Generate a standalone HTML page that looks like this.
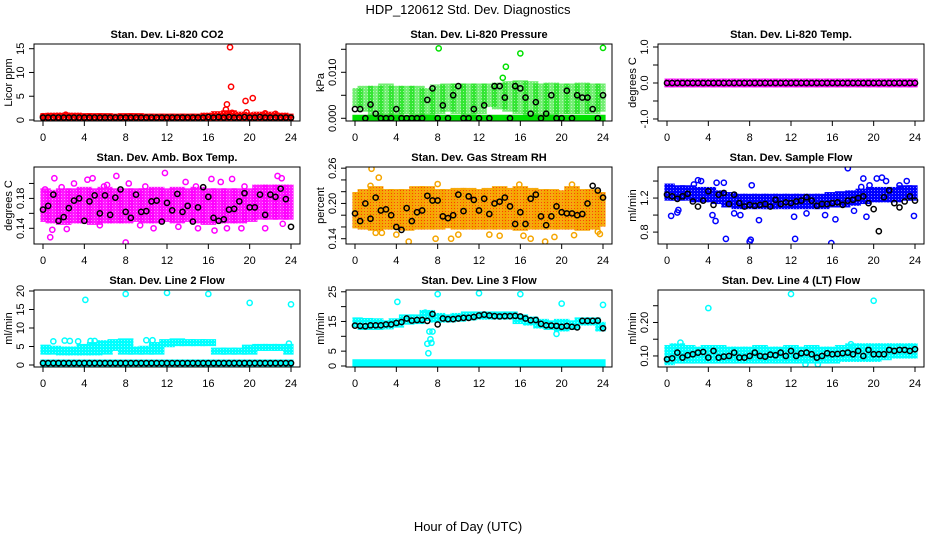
<!DOCTYPE html>
<html><head><meta charset="utf-8"><style>
html,body{margin:0;padding:0;background:#fff;}
svg{display:block;font-family:"Liberation Sans",Arial,sans-serif;}
</style></head><body>
<svg id="chart" width="936" height="540" viewBox="0 0 936 540" xmlns="http://www.w3.org/2000/svg">
<text x="468" y="14" font-size="13" text-anchor="middle">HDP_120612  Std. Dev. Diagnostics</text>
<text x="468" y="531" font-size="13" text-anchor="middle">Hour of Day (UTC)</text>
</svg>
<script>
// ---- data ----
const xTicks = [0,4,8,12,16,20,24];
const titles = ["Stan. Dev. Li-820 CO2","Stan. Dev. Li-820 Pressure","Stan. Dev. Li-820 Temp.","Stan. Dev. Amb. Box Temp.","Stan. Dev. Gas Stream RH","Stan. Dev. Sample Flow","Stan. Dev. Line 2 Flow","Stan. Dev. Line 3 Flow","Stan. Dev. Line 4 (LT) Flow"];
const yTitles = ["Licor ppm","kPa","degrees C","degrees C","percent","ml/min","ml/min","ml/min","ml/min"];
const colors = ["#ff0000","#00e000","#ff00ff","#ff00ff","#f5a500","#0000ff","#00ffff","#00ffff","#00ffff"];
const yRanges = [[-0.21,15.99],[-0.00059,0.01615],[-1.056,1.083],[0.119,0.222],[0.131,0.262],[0.66,1.565],[-0.54,20.27],[-0.34,25.6],[0.067,0.297]];
const yTickVals = [[0,5,10,15],[0,0.005,0.01,0.015],[-1,-0.5,0,0.5,1],[0.14,0.16,0.18,0.2],[0.14,0.16,0.18,0.2,0.22,0.24,0.26],[0.8,1.0,1.2,1.4],[0,5,10,15,20],[0,5,10,15,20,25],[0.1,0.15,0.2,0.25]];
const yTickLabels = [["0","5","10","15"],["0.000","","0.010",""],["-1.0","","0.0","","1.0"],["0.14","","0.18",""],["0.14","","","0.20","","","0.26"],["0.8","","1.2",""],["0","5","10","15","20"],["0","5","","15","","25"],["0.10","","0.20",""]];

// hourly band (dense cloud) lows / highs, one per hour 0..24
const bandLo = [
 [0.2,0.2,0.2,0.2,0.2,0.2,0.2,0.2,0.2,0.2,0.2,0.2,0.2,0.2,0.2,0.2,0.2,0.2,0.2,0.2,0.2,0.2,0.2,0.2,0.2],
 [0.003,0.002,0.001,0.001,0.001,0.0015,0.001,0.0012,0.0015,0.002,0.0015,0.0012,0.0015,0.003,0.0025,0.002,0.0015,0.001,0.001,0.001,0.0015,0.0015,0.0015,0.0015,0.002],
 [-0.05,-0.05,-0.05,-0.05,-0.05,-0.05,-0.05,-0.05,-0.05,-0.05,-0.05,-0.05,-0.05,-0.05,-0.05,-0.05,-0.05,-0.05,-0.05,-0.05,-0.05,-0.05,-0.05,-0.05,-0.05],
 [0.152,0.15,0.148,0.15,0.15,0.148,0.15,0.15,0.15,0.152,0.15,0.15,0.152,0.15,0.152,0.15,0.148,0.15,0.15,0.15,0.152,0.155,0.155,0.155,0.155],
 [0.162,0.16,0.158,0.16,0.16,0.158,0.16,0.16,0.16,0.162,0.16,0.16,0.16,0.16,0.16,0.16,0.158,0.16,0.16,0.16,0.16,0.16,0.158,0.16,0.165],
 [1.2,1.2,1.2,1.18,1.18,1.16,1.12,1.1,1.1,1.1,1.1,1.1,1.1,1.1,1.1,1.1,1.12,1.12,1.14,1.16,1.18,1.18,1.18,1.2,1.2],
 [3.5,3.5,3.3,3.3,3.3,3.3,3.5,4.5,3.5,3.5,3.5,3.5,5.5,5.8,5.8,5.8,5.8,3.5,3.5,3.5,3.5,4.5,4.5,4.5,3.5],
 [14,13,13,13.2,13.8,14.8,15,16,15.5,15.5,15.8,16.2,16.5,16.5,16.5,16.5,15,14.5,13.5,13,12.5,13,14.5,14.5,12.5],
 [0.08,0.085,0.085,0.085,0.085,0.085,0.085,0.085,0.085,0.085,0.085,0.085,0.085,0.085,0.085,0.085,0.085,0.09,0.09,0.09,0.09,0.095,0.1,0.1,0.1]];
const bandHi = [
 [0.9,1,1,1,0.9,0.9,0.9,0.8,0.9,0.9,0.8,0.8,0.8,0.8,0.8,0.8,1.0,1.3,1.5,1.2,1.1,1.2,1.2,1.0,0.8],
 [0.006,0.0065,0.0065,0.007,0.0065,0.0065,0.0065,0.006,0.0068,0.007,0.007,0.007,0.007,0.007,0.0072,0.0075,0.0077,0.0075,0.007,0.0072,0.007,0.007,0.0072,0.007,0.007],
 [0.05,0.05,0.05,0.05,0.05,0.05,0.05,0.05,0.05,0.05,0.05,0.05,0.05,0.05,0.05,0.05,0.05,0.05,0.05,0.05,0.05,0.05,0.05,0.05,0.05],
 [0.19,0.188,0.19,0.19,0.192,0.19,0.192,0.19,0.19,0.19,0.19,0.192,0.19,0.192,0.19,0.192,0.19,0.19,0.19,0.19,0.19,0.195,0.195,0.195,0.195],
 [0.215,0.22,0.225,0.22,0.22,0.22,0.225,0.225,0.22,0.22,0.222,0.222,0.22,0.222,0.225,0.222,0.225,0.222,0.22,0.22,0.218,0.225,0.22,0.22,0.215],
 [1.34,1.32,1.32,1.3,1.3,1.26,1.24,1.22,1.22,1.22,1.22,1.22,1.22,1.22,1.22,1.22,1.24,1.25,1.26,1.28,1.3,1.3,1.3,1.32,1.32],
 [4.8,4.5,4.3,4.3,5,5.5,6,6.3,6.5,4.3,4.5,5.5,6.3,6.5,6.3,6.3,6.3,4,4,4,4.8,5,5,5,5],
 [15.5,15.3,15.2,14.5,15.2,16.5,16.5,18,17,16.5,17,17.5,17.5,17.5,17.5,17.5,16.5,15.8,15,14.5,15,14.5,15.5,15.5,14],
 [0.125,0.13,0.125,0.12,0.125,0.125,0.12,0.12,0.12,0.125,0.12,0.12,0.125,0.12,0.125,0.12,0.12,0.125,0.13,0.13,0.13,0.13,0.13,0.13,0.13]];
// constant baseline band (zeros) for some panels: [lo, hi] or null
const baseBand = [null,[-0.0002,0.0002],null,null,null,null,[0.2,0.8],[0.6,1.4],null];

// outlier points [hour, value]
const outliers = [
 [[0,0.8],[2.2,1.1],[17.7,2.2],[17.8,3.3],[18.1,15.3],[18.2,7.0],[18.3,1.5],[19.6,4.0],[19.7,1.6],[20.3,4.6],[21.5,1.4],[22.5,1.3]],
 [[8.1,0.0152],[16,0.0141],[14.6,0.0112],[14.3,0.0088],[24,0.0153]],
 [],
 [[0.2,0.192],[0.7,0.128],[0.9,0.138],[1.1,0.207],[2.3,0.139],[3,0.2],[4.3,0.205],[4.8,0.207],[5.5,0.144],[6.2,0.198],[7.1,0.21],[8,0.121],[8.3,0.2],[9.4,0.144],[10.7,0.14],[11.8,0.214],[13.1,0.142],[13.8,0.202],[15,0.14],[16.3,0.206],[16.6,0.137],[17.2,0.202],[17.8,0.14],[18.3,0.206],[19.2,0.14],[21.5,0.14],[22.7,0.21],[23.1,0.207],[23.2,0.146],[1.8,0.195],[5.9,0.196],[9.9,0.196],[14.8,0.196],[19.5,0.196]],
 [[1.6,0.259],[2.3,0.244],[1.5,0.23],[2,0.15],[2.6,0.15],[4,0.147],[5.2,0.135],[7.8,0.14],[9.3,0.14],[10,0.147],[13,0.147],[14,0.145],[16.3,0.145],[17,0.14],[18.4,0.135],[19.3,0.143],[21.2,0.146],[23.5,0.152],[23.7,0.148],[8,0.233],[15.9,0.232],[21,0.232]],
 [[0.4,0.99],[1,1.03],[1.1,1.06],[2.6,1.36],[3,1.41],[3.3,1.4],[4.4,1.0],[4.7,0.93],[4.8,1.38],[5.5,1.38],[5.7,0.72],[6.5,1.02],[7.1,1.0],[8,0.69],[8.1,0.71],[8.2,1.35],[8.9,0.94],[12.3,0.98],[12.4,0.72],[13.5,1.02],[15.3,1.0],[15.9,0.67],[16.3,0.95],[17.5,1.55],[18.1,1.05],[19,1.43],[19.3,0.98],[19.6,1.35],[20.3,1.43],[21.2,1.4],[20.8,1.44],[22.5,1.35],[23.2,1.4],[23.9,0.99],[18.8,1.33]],
 [[1,6.4],[2.1,6.6],[2.6,6.5],[3.4,6.4],[4.1,17.6],[4.6,6.5],[5,6.5],[8,19.2],[10,6.7],[10.6,6.7],[12,19.5],[16,19.2],[20,16.8],[23.8,5.8],[24,16.4]],
 [[4.1,21.6],[7,7.5],[7.1,4.3],[7.2,11.6],[7.3,9],[7.4,7.8],[7.5,11.6],[8,24.2],[12,24.5],[16,24.2],[19.5,10.8],[20,21],[24,20.6],[6.8,18]],
 [[1.3,0.14],[4,0.243],[12,0.285],[20,0.265],[13.4,0.075],[14.6,0.075],[17.8,0.135]]];

// black series: half-hourly values 0..24
const blackVals = [
 [0.5,0.5,0.5,0.5,0.5,0.5,0.5,0.5,0.5,0.5,0.5,0.5,0.5,0.5,0.5,0.5,0.5,0.5,0.5,0.5,0.5,0.5,0.5,0.5,0.5,0.5,0.5,0.5,0.5,0.5,0.5,0.5,0.6,0.5,0.6,0.5,0.6,0.5,0.5,0.6,0.5,0.5,0.6,0.5,0.5,0.5,0.5,0.5,0.5],
 [0.002,0.002,0,0.003,0.001,0,0,0,0.002,0,0,0,0,0,0.004,0.0065,0,0.0028,0,0.005,0.007,0,0,0.002,0,0.0028,0,0.007,0.007,0.0045,0,0.007,0.0065,0.0045,0.001,0.0035,0,0.001,0.005,0,0,0.006,0,0.005,0.0045,0.0045,0.002,0,0.005],
 [0,0,0,0,0,0,0,0,0,0,0,0,0,0,0,0,0,0,0,0,0,0,0,0,0,0,0,0,0,0,0,0,0,0,0,0,0,0,0,0,0,0,0,0,0,0,0,0,0],
 [0.165,0.17,0.185,0.15,0.155,0.167,0.177,0.18,0.15,0.176,0.184,0.16,0.184,0.158,0.181,0.192,0.162,0.154,0.185,0.162,0.163,0.176,0.177,0.149,0.174,0.164,0.186,0.162,0.17,0.149,0.168,0.195,0.182,0.154,0.15,0.152,0.165,0.166,0.176,0.187,0.168,0.168,0.185,0.158,0.185,0.182,0.193,0.179,0.142],
 [0.183,0.17,0.2,0.174,0.21,0.188,0.19,0.18,0.16,0.155,0.192,0.17,0.185,0.188,0.213,0.205,0.205,0.178,0.175,0.18,0.215,0.187,0.212,0.206,0.188,0.208,0.182,0.2,0.203,0.21,0.195,0.165,0.185,0.165,0.208,0.215,0.178,0.163,0.178,0.195,0.185,0.183,0.183,0.18,0.182,0.2,0.23,0.222,0.21],
 [1.24,1.22,1.19,1.22,1.25,1.16,1.1,1.17,1.28,1.12,1.24,1.26,1.13,1.24,1.14,1.1,1.12,1.11,1.12,1.13,1.1,1.18,1.13,1.15,1.14,1.16,1.17,1.21,1.17,1.11,1.13,1.13,1.14,1.15,1.12,1.17,1.18,1.2,1.22,1.14,1.07,0.81,1.21,1.29,1.14,1.09,1.16,1.22,1.17],
 [0.5,0.5,0.5,0.5,0.5,0.5,0.5,0.5,0.5,0.5,0.5,0.5,0.5,0.5,0.5,0.5,0.5,0.5,0.5,0.5,0.5,0.5,0.5,0.5,0.5,0.5,0.5,0.5,0.5,0.5,0.5,0.5,0.5,0.5,0.5,0.5,0.5,0.5,0.5,0.5,0.5,0.5,0.5,0.5,0.5,0.5,0.5,0.5,0.5],
 [13.6,13.5,13.4,13.7,13.7,13.7,14,14,14.5,14.8,16,15.3,15.5,15.5,15.2,17.5,14,16,15.8,15.8,16,16.2,16.2,16.5,17,17.3,17,16.8,16.7,16.8,16.8,16.9,16.7,16,15.4,15.5,14.2,13.7,13.6,13.5,13.2,13.5,13.2,13,15.2,15.2,15.2,15.3,12.7],
 [0.09,0.093,0.11,0.095,0.102,0.105,0.11,0.112,0.095,0.115,0.095,0.098,0.1,0.11,0.095,0.095,0.1,0.11,0.1,0.098,0.104,0.102,0.11,0.1,0.115,0.1,0.108,0.11,0.105,0.095,0.1,0.108,0.105,0.106,0.108,0.11,0.105,0.115,0.1,0.118,0.105,0.105,0.105,0.118,0.115,0.118,0.118,0.115,0.12]];
const bandOpacity = [1,0.55,1,0.9,0.95,1,1,1,1];

// ---- drawing ----
const NS = "http://www.w3.org/2000/svg";
const svg = document.getElementById('chart');
function mk(tag, attrs, parent){ const e=document.createElementNS(NS,tag); for(const k in attrs) e.setAttribute(k,attrs[k]); (parent||svg).appendChild(e); return e; }

const defs = mk('defs',{});
for (let p=0;p<9;p++){
  const pat = mk('pattern',{id:'pat'+p,width:3,height:3,patternUnits:'userSpaceOnUse'},defs);
  mk('rect',{x:0,y:0,width:3,height:3,fill:colors[p]},pat);
  mk('rect',{x:1,y:1,width:1,height:1,fill:p===4?'#ff2000':'#ffffff','fill-opacity':p===4?0.8:0.5},pat);
}

for (let p=0;p<9;p++){
  const col=p%3,row=Math.floor(p/3);
  const L=34+312*col, W=266, T=44+123*row, B=121+123*row;
  const x0=L+9, x1=L+257;
  const X=h=>x0+(x1-x0)*h/24;
  const [ymin,ymax]=yRanges[p];
  const Y=v=>B-(B-T)*(v-ymin)/(ymax-ymin);
  const g=mk('g',{});
  
  
  const clipId='clip'+p;
  const cp=mk('clipPath',{id:clipId},defs); mk('rect',{x:L,y:T,width:W,height:B-T},cp);
  const t=mk('text',{x:L+W/2,y:T-6,'font-size':11,'font-weight':'bold','text-anchor':'middle'},g);
  t.textContent=titles[p];
  
  
  const pl=mk('g',{'clip-path':'url(#'+clipId+')'},g);
  // bands
  const rr=2.6;
  for(let i=0;i<bandLo[p].length;i++){
    const ha=Math.max(0,i-0.5), hb=Math.min(24,i+0.5);
    const r=mk('rect',{x:X(ha)-rr,y:Y(bandHi[p][i])-rr,width:X(hb)-X(ha)+2*rr,height:Y(bandLo[p][i])-Y(bandHi[p][i])+2*rr,fill:'url(#pat'+p+')','fill-opacity':bandOpacity[p]},pl);
    
    
  }
  if(baseBand[p]){
    const r=mk('rect',{x:X(0)-rr,y:Y(baseBand[p][1])-rr,width:X(24)-X(0)+2*rr,height:Y(baseBand[p][0])-Y(baseBand[p][1])+2*rr,fill:colors[p]},pl);
    
    
  }
  for(const [h,v] of outliers[p]){
    const c=mk('circle',{cx:X(h),cy:Y(v),r:2.6,fill:'none',stroke:colors[p],'stroke-width':1.5},pl);
    
    
  }
  blackVals[p].forEach((v,i)=>{
    const c=mk('circle',{cx:X(i*0.5),cy:Y(v),r:2.6,fill:'none',stroke:'#000','stroke-width':1.5},pl);
    
    
  });
  // box
  mk('rect',{x:L,y:T,width:W,height:B-T,fill:'none',stroke:'#000','stroke-width':1},g);
  // x axis
  mk('line',{x1:X(0),y1:B,x2:X(24),y2:B,stroke:'#000'},g);
  xTicks.forEach(h=>{
    mk('line',{x1:X(h),y1:B,x2:X(h),y2:B+5,stroke:'#000'},g);
    const tx=mk('text',{x:X(h),y:B+20,'font-size':11,'text-anchor':'middle'},g);
    tx.textContent=h;
    
    
  });
  // y axis
  const tv=yTickVals[p];
  mk('line',{x1:L,y1:Y(tv[0]),x2:L,y2:Y(tv[tv.length-1]),stroke:'#000'},g);
  tv.forEach((v,i)=>{
    mk('line',{x1:L-5,y1:Y(v),x2:L,y2:Y(v),stroke:'#000'},g);
    const lab=yTickLabels[p][i];
    if(lab){
      const ty=mk('text',{x:0,y:0,'font-size':11,'text-anchor':'middle',transform:'translate('+(L-10)+','+Y(v)+') rotate(-90)'},g);
      ty.textContent=lab;
      
      
    }
  });
  const yt=mk('text',{x:0,y:0,'font-size':11,'text-anchor':'middle',transform:'translate('+(L-22)+','+((T+B)/2)+') rotate(-90)'},g);
  yt.textContent=yTitles[p];
  
  
}
</script>
</body></html>
